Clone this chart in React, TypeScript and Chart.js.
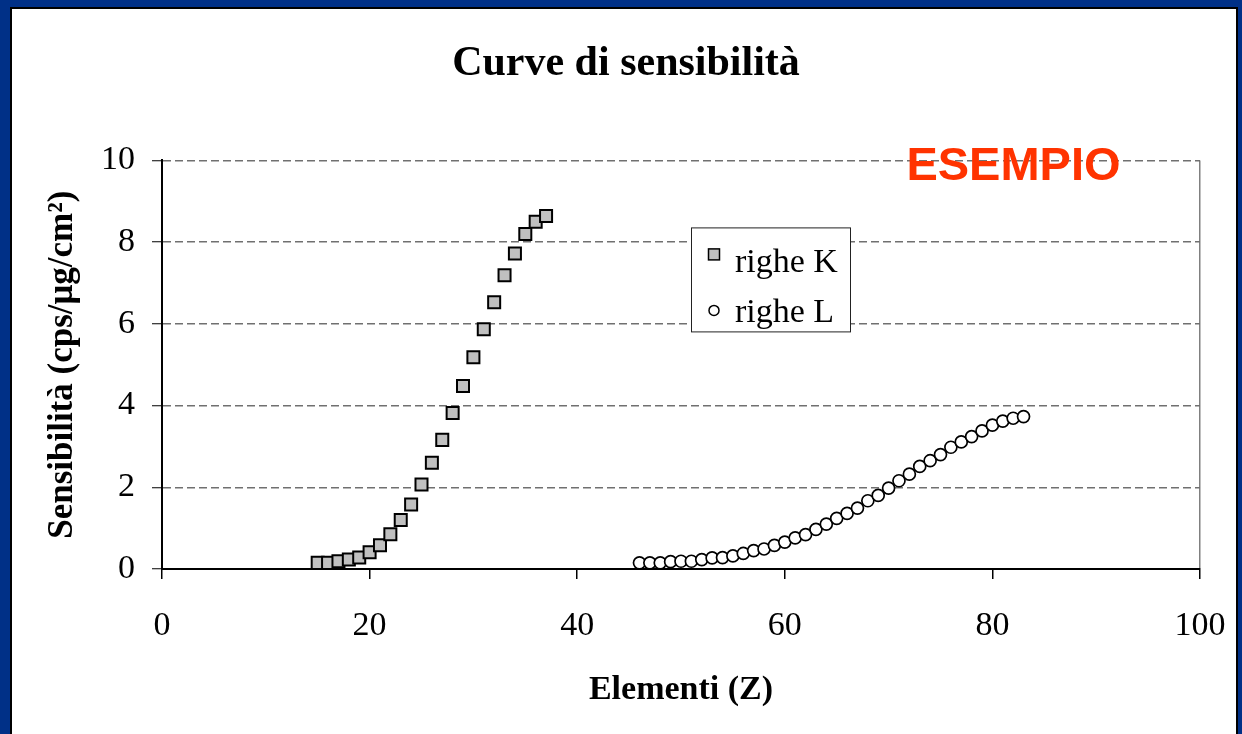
import React, { useEffect, useRef } from 'react';
import { Chart, registerables } from 'chart.js';

Chart.register(...registerables);

const TITLE = 'Curve di sensibilità';
const X_TITLE = 'Elementi (Z)';
const Y_TITLE = 'Sensibilità (cps/μg/cm²)';
const WATERMARK = 'ESEMPIO';
const K_LABEL = 'righe K';
const L_LABEL = 'righe L';

const K_Z = [15, 16, 17, 18, 19, 20, 21, 22, 23, 24, 25, 26, 27, 28, 29, 30, 31, 32, 33, 34, 35, 36, 37];
const K_VALUES = [0.15, 0.15, 0.19, 0.23, 0.28, 0.41, 0.58, 0.85, 1.2, 1.58, 2.07, 2.6, 3.16, 3.82, 4.48, 5.18, 5.87, 6.53, 7.19, 7.72, 8.2, 8.5, 8.64];

const L_Z = [46, 47, 48, 49, 50, 51, 52, 53, 54, 55, 56, 57, 58, 59, 60, 61, 62, 63, 64, 65, 66, 67, 68, 69, 70, 71, 72, 73, 74, 75, 76, 77, 78, 79, 80, 81, 82, 83];
const L_VALUES = [0.15, 0.15, 0.15, 0.18, 0.19, 0.19, 0.23, 0.27, 0.28, 0.32, 0.38, 0.45, 0.49, 0.58, 0.66, 0.76, 0.84, 0.97, 1.1, 1.24, 1.36, 1.49, 1.67, 1.8, 1.98, 2.16, 2.32, 2.51, 2.65, 2.8, 2.98, 3.11, 3.24, 3.38, 3.52, 3.62, 3.69, 3.73];

const X_TICKS = [0, 20, 40, 60, 80, 100];
const Y_TICKS = [0, 2, 4, 6, 8, 10];

const SERIF = "'Liberation Serif', 'Times New Roman', serif";
const SANS = "'Liberation Sans', Arial, sans-serif";

const overlayPlugin = {
  id: 'overlay',
  afterDatasetsDraw(chart: any) {
    const { ctx, chartArea: a } = chart;
    ctx.save();
    // watermark
    ctx.font = `bold 47px ${SANS}`;
    ctx.fillStyle = '#FF3300';
    ctx.textAlign = 'center';
    ctx.textBaseline = 'alphabetic';
    ctx.fillText(WATERMARK, a.right - 186.5, a.top + 20);

    // legend box
    const bx = a.left + 529;
    const by = a.top + 67;
    const bw = 159;
    const bh = 104;
    ctx.fillStyle = '#ffffff';
    ctx.fillRect(bx, by, bw, bh);
    ctx.strokeStyle = '#222';
    ctx.lineWidth = 1;
    ctx.strokeRect(bx + 0.5, by + 0.5, bw, bh);

    const rows = [
      { my: by + 27, ty: by + 45, shape: 'rect' },
      { my: by + 83, ty: by + 95, shape: 'circle' },
    ];
    rows.forEach((r, i) => {
      const ds = chart.data.datasets[i];
      const mx = bx + 23;
      ctx.fillStyle = ds.pointBackgroundColor;
      ctx.strokeStyle = ds.pointBorderColor;
      ctx.lineWidth = 1.5;
      if (r.shape === 'rect') {
        ctx.fillRect(mx - 5.5, r.my - 5.5, 11, 11);
        ctx.strokeRect(mx - 5.5, r.my - 5.5, 11, 11);
      } else {
        ctx.beginPath();
        ctx.arc(mx, r.my, 5, 0, Math.PI * 2);
        ctx.fill();
        ctx.stroke();
      }
      ctx.fillStyle = '#000';
      ctx.font = `34px ${SERIF}`;
      ctx.textAlign = 'left';
      ctx.textBaseline = 'alphabetic';
      ctx.fillText(ds.label, bx + 44, r.ty);
    });
    ctx.restore();
  },
};

export default function App() {
  const ref = useRef<HTMLCanvasElement | null>(null);

  useEffect(() => {
    if (!ref.current) return;
    const chart = new Chart(ref.current, {
      type: 'scatter',
      data: {
        datasets: [
          {
            label: K_LABEL,
            data: K_Z.map((z, i) => ({ x: z, y: K_VALUES[i] })),
            pointStyle: 'rect',
            pointRadius: 8.5,
            pointBackgroundColor: '#C0C0C0',
            pointBorderColor: '#000000',
            pointBorderWidth: 2,
            showLine: false,
          },
          {
            label: L_LABEL,
            data: L_Z.map((z, i) => ({ x: z, y: L_VALUES[i] })),
            pointStyle: 'circle',
            pointRadius: 6,
            pointBackgroundColor: '#FFFFFF',
            pointBorderColor: '#000000',
            pointBorderWidth: 1.7,
            showLine: false,
          },
        ],
      },
      options: {
        responsive: false,
        devicePixelRatio: 1,
        animation: false,
        layout: { padding: { top: 0, left: 40, right: 36, bottom: 0 } },
        plugins: {
          legend: { display: false },
          tooltip: { enabled: false },
          title: {
            display: true,
            text: TITLE,
            color: '#000',
            font: { family: SERIF, size: 42, weight: 'bold' },
            padding: { top: 30, bottom: 71 },
          },
        },
        scales: {
          x: {
            type: 'linear',
            min: 0,
            max: 100,
            afterBuildTicks: (s: any) => {
              s.ticks = X_TICKS.map((v) => ({ value: v }));
            },
            afterFit: (s: any) => {
              s.height = 165;
              s.paddingLeft = 0;
              s.paddingRight = 0;
            },
            grid: {
              color: (c: any) => (c.tick && c.tick.value === 100 ? '#808080' : 'rgba(0,0,0,0)'),
              lineWidth: 1.5,
              tickColor: '#000',
              tickLength: 10,
              tickWidth: 1.5,
            },
            border: { color: '#000', width: 2 },
            ticks: {
              color: '#000',
              font: { family: SERIF, size: 34 },
              padding: 27,
              maxRotation: 0,
              autoSkip: false,
            },
            title: {
              display: true,
              text: X_TITLE,
              color: '#000',
              font: { family: SERIF, size: 34, weight: 'bold' },
              padding: { top: 0, bottom: 23 },
            },
          },
          y: {
            type: 'linear',
            min: 0,
            max: 10,
            afterBuildTicks: (s: any) => {
              s.ticks = Y_TICKS.map((v) => ({ value: v }));
            },
            afterFit: (s: any) => {
              s.width = 110;
              s.paddingTop = 0;
              s.paddingBottom = 0;
            },
            grid: {
              color: (c: any) => (c.tick && c.tick.value === 0 ? 'rgba(0,0,0,0)' : '#707070'),
              lineWidth: 1.5,
              tickColor: '#000',
              tickLength: 10,
              tickWidth: 1,
            },
            border: { color: '#000', width: 2, dash: [8, 4] },
            ticks: {
              color: '#000',
              font: { family: SERIF, size: 34 },
              padding: 17,
            },
            title: {
              display: true,
              text: Y_TITLE,
              color: '#000',
              font: { family: SERIF, size: 35, weight: 'bold' },
              padding: { top: -10, bottom: 0 },
            },
          },
        },
      },
      plugins: [overlayPlugin],
    } as any);
    return () => chart.destroy();
  }, []);

  return (
    <div
      style={{
        position: 'fixed',
        left: 0,
        top: 0,
        width: 1242,
        height: 734,
        overflow: 'hidden',
        background: '#003087',
      }}
    >
      <div
        style={{
          position: 'absolute',
          left: 10,
          top: 7,
          width: 1228,
          height: 800,
          boxSizing: 'border-box',
          border: '2px solid #000',
          background: '#fff',
        }}
      >
        <canvas ref={ref} width={1224} height={725} style={{ display: 'block' }} />
      </div>
    </div>
  );
}
